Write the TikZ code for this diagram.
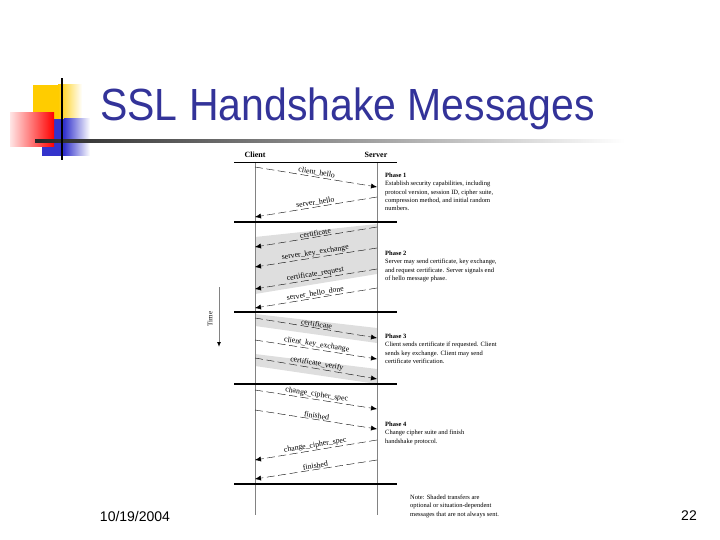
\documentclass[tikz,border=0pt]{standalone}
\usepackage{fontspec}
\setmainfont{Liberation Serif}
\newfontfamily\titlefont{Liberation Sans}
\usetikzlibrary{calc}
\usetikzlibrary{arrows.meta}

\definecolor{titleblue}{RGB}{51,51,153}
\definecolor{bandgray}{RGB}{222,222,222}
\definecolor{lifegray}{RGB}{130,130,130}
\definecolor{decoyellow}{RGB}{255,204,0}
\definecolor{decoblue}{RGB}{51,51,204}

\tikzset{
  msg/.style={black, thin, dash pattern=on 8pt off 3.5pt, -{Latex[length=6pt,width=5pt]}},
  msglabel/.style={sloped, above, inner sep=1pt, font=\fontsize{7.8}{8}\selectfont},
  phasetext/.style={anchor=north west, align=left, inner sep=0pt, font=\fontsize{6.5}{8.2}\selectfont},
  lifeline/.style={lifegray, line width=0.9pt},
  phaseline/.style={black, line width=1.2pt},
  band/.style={fill=bandgray}
}

\begin{document}
\begin{tikzpicture}[x=1pt,y=-1pt]
  \useasboundingbox (0,0) rectangle (720,540);
  % title decoration
  \fill[decoyellow] (33,85) rectangle (58,119);
  \shade[left color=decoyellow, right color=white] (58,85) rectangle (82,119);
  \fill[decoblue] (42,119) rectangle (64,156);
  \shade[left color=decoblue, right color=white] (64,119) rectangle (90,156);
  \shade[left color=red!10, right color=red] (10,113) rectangle (54,147);
  \shade[left color=black!85, right color=white] (35,140) rectangle (625,142.5);
  \fill[black] (61,78) rectangle (63,160);
  \node[anchor=base west, inner sep=0pt, text=titleblue] (title) at (100,121)
    {\scalebox{1}[1.1]{\titlefont\fontsize{41}{46}\selectfont SSL Handshake Messages}};

  % client and server
  \node[font=\bfseries\fontsize{8}{9}\selectfont] (client) at (255,155) {Client};
  \node[font=\bfseries\fontsize{8}{9}\selectfont] (server) at (376,155) {Server};
  \coordinate (cltop) at (255,162);
  \coordinate (svtop) at (377,162);
  \coordinate (clbot) at (255,515);
  \coordinate (svbot) at (377,515);

  % message end points
  \coordinate (c1) at (255,167); \coordinate (s1) at (377,187);
  \coordinate (s2) at (377,197); \coordinate (c2) at (255,217);
  \coordinate (s3) at (377,227); \coordinate (c3) at (255,247);
  \coordinate (s4) at (377,248); \coordinate (c4) at (255,267);
  \coordinate (s5) at (377,269); \coordinate (c5) at (255,289);
  \coordinate (s6) at (377,288); \coordinate (c6) at (255,308);
  \coordinate (c7) at (255,318); \coordinate (s7) at (377,338);
  \coordinate (c8) at (255,340); \coordinate (s8) at (377,359);
  \coordinate (c9) at (255,358); \coordinate (s9) at (377,379);
  \coordinate (c10) at (255,390); \coordinate (s10) at (377,409);
  \coordinate (c11) at (255,410); \coordinate (s11) at (377,429);
  \coordinate (s12) at (377,440); \coordinate (c12) at (255,460);
  \coordinate (s13) at (377,460); \coordinate (c13) at (255,479);

  % shaded transfers
  \fill[band] ($(s3)+(0,-3)$) -- ($(c3)+(0,-10)$) -- ($(c5)+(0,5)$) -- ($(s5)+(0,5)$) -- cycle;
  \fill[band] ($(c7)+(0,-4)$) -- ($(s7)+(0,-10)$) -- ($(s7)+(0,5)$) -- ($(c7)+(0,8)$) -- cycle;
  \fill[band] ($(c9)+(0,-4)$) -- ($(s9)+(0,-10)$) -- ($(s9)+(0,5)$) -- ($(c9)+(0,8)$) -- cycle;

  % lifelines and phase borders
  \draw[lifeline] (cltop) -- (clbot);
  \draw[lifeline] (svtop) -- (svbot);
  \draw[black, line width=0.9pt] (234,162) -- (397,162);
  \draw[phaseline] (234,222) -- (397,222);
  \draw[phaseline] (234,312) -- (397,312);
  \draw[phaseline] (234,384) -- (397,384);
  \draw[black, line width=2.2pt] (234,484) -- (397,484);

  % messages
  \draw[msg] (c1) -- node[msglabel]{client\_hello} (s1);
  \draw[msg] (s2) -- node[msglabel]{server\_hello} (c2);
  \draw[msg] (s3) -- node[msglabel]{certificate} (c3);
  \draw[msg] (s4) -- node[msglabel]{server\_key\_exchange} (c4);
  \draw[msg] (s5) -- node[msglabel]{certificate\_request} (c5);
  \draw[msg] (s6) -- node[msglabel]{server\_hello\_done} (c6);
  \draw[msg] (c7) -- node[msglabel]{certificate} (s7);
  \draw[msg] (c8) -- node[msglabel]{client\_key\_exchange} (s8);
  \draw[msg] (c9) -- node[msglabel]{certificate\_verify} (s9);
  \draw[msg] (c10) -- node[msglabel]{change\_cipher\_spec} (s10);
  \draw[msg] (c11) -- node[msglabel]{finished} (s11);
  \draw[msg] (s12) -- node[msglabel]{change\_cipher\_spec} (c12);
  \draw[msg] (s13) -- node[msglabel]{finished} (c13);

  % phase descriptions
  \node[phasetext] (ph1) at (385,173) {\textbf{Phase 1}\\Establish security capabilities, including\\protocol version, session ID, cipher suite,\\compression method, and initial random\\numbers.};
  \node[phasetext] (ph2) at (385,251) {\textbf{Phase 2}\\Server may send certificate, key exchange,\\and request certificate. Server signals end\\of hello message phase.};
  \node[phasetext] (ph3) at (385,334) {\textbf{Phase 3}\\Client sends certificate if requested. Client\\sends key exchange. Client may send\\certificate verification.};
  \node[phasetext] (ph4) at (385,422) {\textbf{Phase 4}\\Change cipher suite and finish\\handshake protocol.};
  \node[phasetext] (note) at (410,495) {Note: Shaded transfers are\\optional or situation-dependent\\messages that are not always sent.};

  % time axis
  \coordinate (t0) at (219,287);
  \coordinate (t1) at (219,347);
  \draw[lifegray, line width=1pt, -{Latex[length=5pt,width=4pt,color=black]}] (t0) -- (t1);
  \node[rotate=90, font=\fontsize{7}{8}\selectfont] (time) at (210,319) {Time};

  % footer
  \node[font=\titlefont\fontsize{14}{16}\selectfont] (date) at (135,516) {10/19/2004};
  \node[font=\titlefont\fontsize{14}{16}\selectfont] (page) at (689,516) {22};
\end{tikzpicture}
\end{document}
